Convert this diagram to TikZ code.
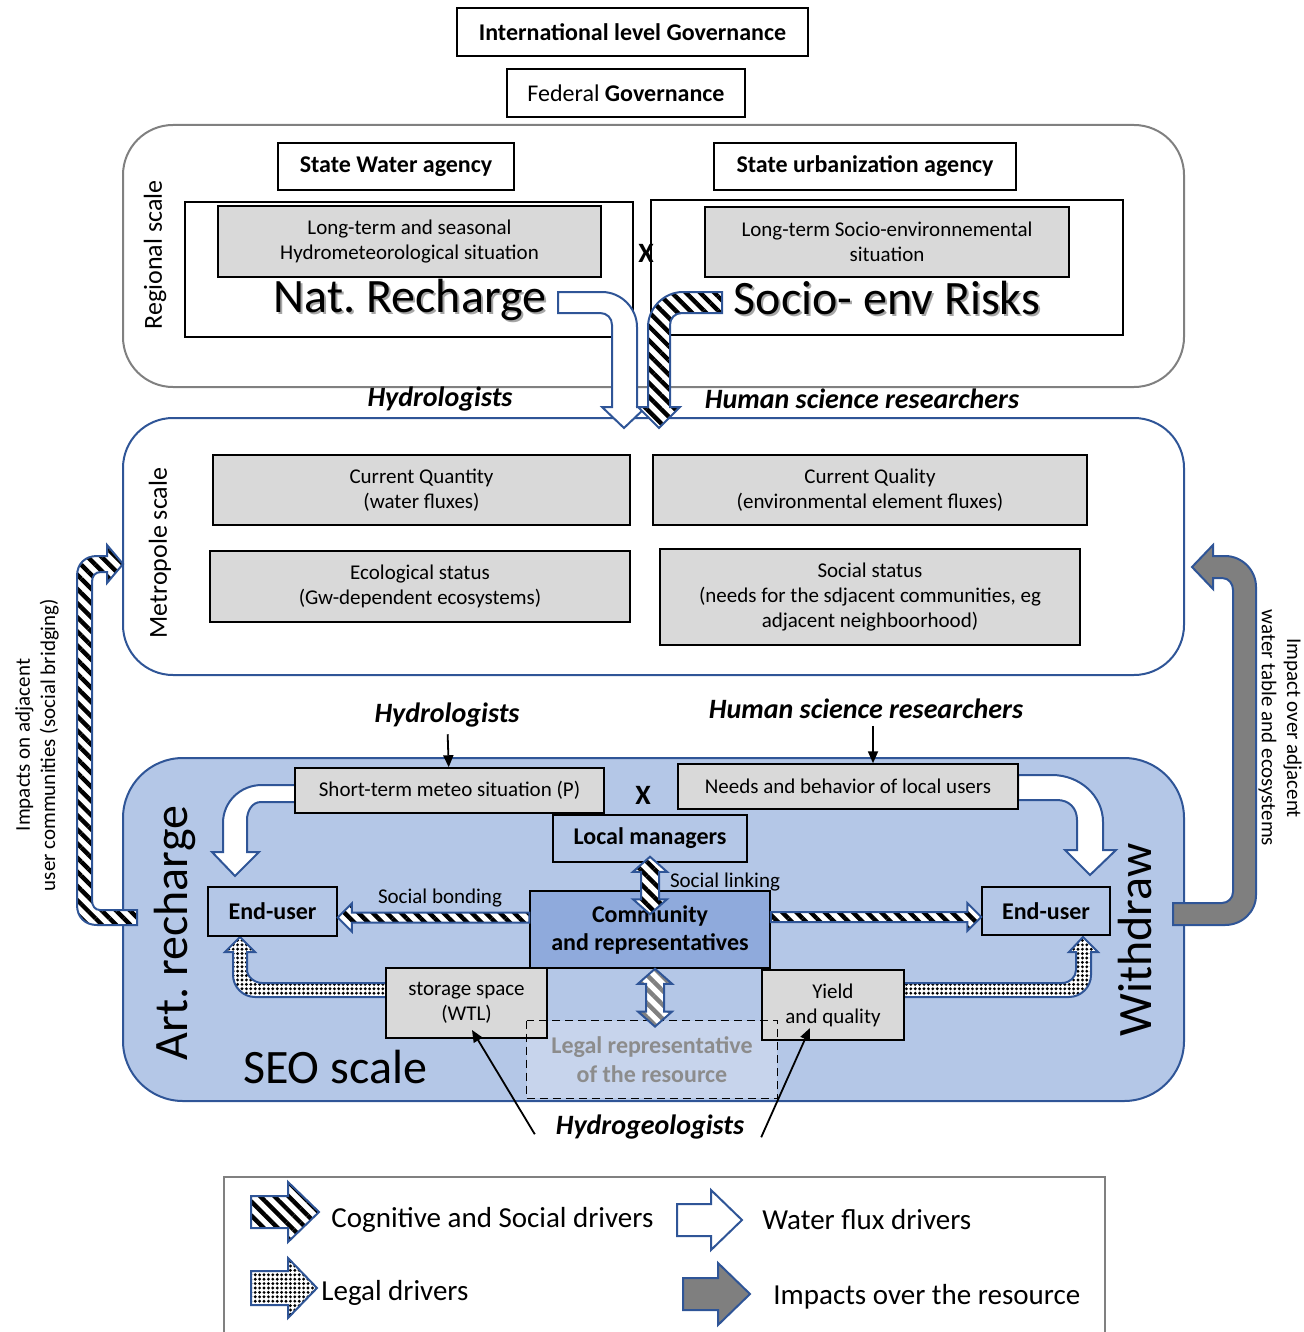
\documentclass[tikz,border=0pt]{standalone}
\usepackage{fontspec}
\setmainfont{Carlito}
\usepackage{xcolor}
\usetikzlibrary{calc,arrows.meta,patterns.meta}
\frenchspacing
\definecolor{seoblue}{HTML}{B4C7E7}
\definecolor{commblue}{HTML}{8FAADC}
\definecolor{edgeblue}{HTML}{2F5597}
\definecolor{cellgray}{HTML}{D9D9D9}
\definecolor{framegray}{HTML}{808080}
\definecolor{impactgray}{HTML}{7F7F7F}
\definecolor{legalfill}{HTML}{C7D4EC}
\definecolor{legaltext}{HTML}{8C8C8C}
\tikzset{
  span/.style n args={4}{at={({(#1+#3)/2},{(#2+#4)/2})},
    minimum width={(#3-#1)*0.5pt}, minimum height={(#4-#2)*0.5pt}},
  govbox/.style={draw, line width=0.75pt, fill=white, inner sep=0pt, font=\fontsize{12}{14}\selectfont\bfseries},
  cell/.style={draw, line width=0.75pt, fill=cellgray, inner sep=0pt, align=center, font=\fontsize{10.5}{12.6}\selectfont},
  panel/.style={draw, line width=0.6pt, inner sep=0pt},
  actor/.style={draw, line width=0.75pt, fill=seoblue, inner sep=0pt, align=center, font=\fontsize{12}{14}\selectfont\bfseries},
  role/.style={font=\fontsize{14}{16}\selectfont\bfseries\itshape},
  bigtxt/.style={font=\fontsize{24}{28}\selectfont},
  scalelab/.style={font=\fontsize{13}{15}\selectfont},
  note/.style={font=\fontsize{10.5}{12.6}\selectfont, align=center},
  legtxt/.style={font=\fontsize{14.5}{17}\selectfont, anchor=west, inner sep=0pt},
  waterdrv/.style={draw=edgeblue, line width=1pt, fill=white},
  socialdrv/.style={draw=edgeblue, line width=1pt, preaction={fill=white},
    pattern={Lines[angle=-45,distance=5pt,line width=2.2pt]}, pattern color=black},
  legaldrv/.style={draw=edgeblue, line width=1pt, preaction={fill=white},
    pattern={Dots[distance=2.2pt,radius=0.8pt]}, pattern color=black},
  legallink/.style={socialdrv, pattern color=gray},
  impactdrv/.style={draw=edgeblue, line width=1pt, fill=impactgray},
  pointer/.style={-{Triangle[length=6pt,width=5pt]}, line width=0.9pt},
}
% block arrow between two points on one line: style, tail, tip, head length
\newcommand{\hblock}[4]{%
  \draw[#1] ($(#2)+(0,-5)$) -- ($(#3)+(#4,-5)$) -- ($(#3)+(#4,-14)$) -- (#3)
    -- ($(#3)+(#4,14)$) -- ($(#3)+(#4,5)$) -- ($(#2)+(0,5)$) -- cycle;}
% vertical double arrow: style, upper tip, lower tip
\newcommand{\vdouble}[3]{%
  \draw[#1] (#2) -- ($(#2)+(17,15)$) -- ($(#2)+(9,15)$) -- ($(#3)+(9,-15)$)
    -- ($(#3)+(17,-15)$) -- (#3) -- ($(#3)+(-17,-15)$) -- ($(#3)+(-9,-15)$)
    -- ($(#2)+(-9,15)$) -- ($(#2)+(-17,15)$) -- cycle;}
% legend arrow: style, tail x, head x, tip x, y, half shaft, half head
\newcommand{\legarrow}[7]{%
  \draw[#1] (#2,#5-#6) -- (#3,#5-#6) -- (#3,#5-#7) -- (#4,#5) -- (#3,#5+#7)
    -- (#3,#5+#6) -- (#2,#5+#6) -- cycle;}

\begin{document}
\begin{tikzpicture}[x=0.5pt,y=-0.5pt]
\useasboundingbox (0,0) rectangle (1304,1332);

% governance levels
\node[govbox, span={457}{8}{808}{56}] (intl) {International level Governance};
\node[govbox, span={507}{69}{745}{117}, font=\fontsize{12}{14}\selectfont] (fed) {Federal \textbf{Governance}};

% regional scale
\node[draw=framegray, line width=1pt, rounded corners=25pt, inner sep=0pt, span={123}{125}{1184}{387}] (regional) {};
\node[scalelab, rotate=90] (reglab) at (155,255) {Regional scale};
\node[govbox, span={278}{143}{514}{190}] (waterag) {State Water agency};
\node[govbox, span={714}{143}{1016}{190}] (urbag) {State urbanization agency};
\node[panel, span={185}{202}{633}{337}] (natpanel) {};
\node[panel, span={651}{200}{1123}{335}] (riskpanel) {};
\node[cell, span={218}{206}{601}{277}] (hydrosit) {Long-term and seasonal\\Hydrometeorological situation};
\node[cell, span={705}{207}{1069}{277}] (sociosit) {Long-term Socio-environnemental\\situation};
\node[font=\fontsize{14}{16}\selectfont\bfseries] (cross1) at (646,253) {X};
\node[bigtxt, text=black!35] (natshadow) at (412,302) {Nat. Recharge};
\node[bigtxt] (nat) at (410,300) {Nat. Recharge};
\node[bigtxt, text=black!35] (riskshadow) at (889,300) {Socio- env Risks};
\node[bigtxt] (risk) at (887,298) {Socio- env Risks};
\node[role] (hydro1) at (440,399) {Hydrologists};
\node[role] (human1) at (862,399) {Human science researchers};

% metropole scale
\node[draw=edgeblue, line width=1pt, rounded corners=25pt, inner sep=0pt, fill=white, span={123}{418}{1184}{675}] (metro) {};
\node[scalelab, rotate=90] (metlab) at (160,553) {Metropole scale};
\node[cell, span={213}{455}{630}{525}] (quant) {Current Quantity\\(water fluxes)};
\node[cell, span={653}{455}{1087}{525}] (qual) {Current Quality\\(environmental element fluxes)};
\node[cell, span={210}{551}{630}{622}] (eco) {Ecological status\\(Gw-dependent ecosystems)};
\node[cell, span={660}{549}{1080}{645}] (social) {Social status\\(needs for the sdjacent communities, eg\\adjacent neighboorhood)};

% regional drivers down to the metropole
\draw[waterdrv] (558,292) -- (602,292) .. controls (621,292) and (637,308) .. (637,327)
  -- (637,407) -- (646,407) -- (624,428) -- (602,407) -- (612,407) -- (612,325)
  .. controls (612,318) and (607,313) .. (600,313) -- (558,313) -- cycle;
\draw[socialdrv] (722,292) -- (683,292) .. controls (664,292) and (648,308) .. (648,327)
  -- (648,407) -- (638,407) -- (659,428) -- (680,407) -- (670,407) -- (670,325)
  .. controls (670,318) and (675,313) .. (682,313) -- (722,313) -- cycle;

\node[role] (hydro2) at (447,715) {Hydrologists};
\node[role] (human2) at (866,709) {Human science researchers};

% SEO scale
\node[draw=edgeblue, line width=1pt, rounded corners=30pt, inner sep=0pt, fill=seoblue, span={123}{758}{1184}{1101}] (seo) {};

% side loops
\draw[socialdrv] (137,910) -- (100,910) .. controls (95,910) and (92,906) .. (92,900)
  -- (92,582) .. controls (92,576) and (95,572) .. (101,572) -- (107,572) -- (107,583)
  -- (123,564) -- (107,545) -- (107,556) -- (97,556) .. controls (85,556) and (77,564) .. (77,576)
  -- (77,905) .. controls (77,917) and (85,925) .. (97,925) -- (137,925) -- cycle;
\draw[impactdrv] (1173,903) -- (1222,903) .. controls (1228,903) and (1233,898) .. (1233,892)
  -- (1233,590) .. controls (1233,584) and (1229,578) .. (1222,578) -- (1213,578) -- (1213,589)
  -- (1192,567) -- (1213,545) -- (1213,556) -- (1225,556) .. controls (1242,556) and (1256,570) .. (1256,587)
  -- (1256,895) .. controls (1256,912) and (1242,925) .. (1225,925) -- (1173,925) -- cycle;
\node[note, rotate=90] (bridgelab) at (37,745) {Impacts on adjacent\\user communities (social bridging)};
\node[note, rotate=-90] (tablelab) at (1280,728) {Impact over adjacent\\water table and ecosystems};

% water flux to the end-users
\draw[waterdrv] (295,785) -- (262,785) .. controls (240,785) and (223,802) .. (223,823)
  -- (223,852) -- (212,852) -- (235,876) -- (259,852) -- (247,852) -- (247,820)
  .. controls (247,811) and (252,802) .. (261,802) -- (295,802) -- cycle;
\draw[waterdrv] (1018,775) -- (1052,775) .. controls (1080,775) and (1103,796) .. (1103,822)
  -- (1103,850) -- (1116,850) -- (1090,875) -- (1065,850) -- (1077,850) -- (1077,820)
  .. controls (1077,808) and (1069,800) .. (1057,800) -- (1018,800) -- cycle;

% legal drivers
\draw[legaldrv] (386,983) -- (262,983) .. controls (255,983) and (247,977) .. (247,970)
  -- (247,952) -- (255,952) -- (240,937) -- (225,952) -- (233,952) -- (233,975)
  .. controls (233,987) and (243,997) .. (255,997) -- (386,997) -- cycle;
\draw[legaldrv] (904,983) -- (1062,983) .. controls (1070,983) and (1076,977) .. (1076,970)
  -- (1076,952) -- (1069,952) -- (1083,937) -- (1098,952) -- (1091,952) -- (1091,975)
  .. controls (1091,987) and (1081,997) .. (1069,997) -- (904,997) -- cycle;

\node[fill=legalfill, inner sep=0pt, span={527}{1021}{777}{1098}, align=center,
  font=\fontsize{12}{14.5}\selectfont\bfseries, text=legaltext] (legal) {Legal representative\\of the resource};
\node[cell, span={386}{968}{547}{1038}] (storage) {storage space\\(WTL)};
\node[cell, span={762}{970}{904}{1040}] (yield) {Yield\\and quality};
\draw[dashed, dash pattern=on 4pt off 2.5pt, line width=0.8pt] (legal.north west) rectangle (legal.south east);

\node[cell, span={295}{768}{604}{813}] (short) {Short-term meteo situation (P)};
\node[font=\fontsize{14}{16}\selectfont\bfseries] (cross2) at (643,795) {X};
\node[cell, span={678}{764}{1018}{809}] (needs) {Needs and behavior of local users};
\node[actor, span={553}{815}{747}{862}] (lm) {Local managers};
\node[actor, span={530}{891}{770}{968}, fill=commblue] (comm) {Community\\and representatives};
\node[actor, span={208}{887}{337}{936}] (endl) {End-user};
\node[actor, span={982}{887}{1110}{935}] (endr) {End-user};

% social bonding and linking
\coordinate (bondLtip) at ([yshift=-3pt]endl.east);
\coordinate (bondLtail) at (bondLtip -| comm.west);
\hblock{socialdrv}{bondLtail}{bondLtip}{14}
\coordinate (bondRtip) at ([yshift=-3pt]endr.west);
\coordinate (bondRtail) at (bondRtip -| comm.east);
\hblock{socialdrv}{bondRtail}{bondRtip}{-14}
\coordinate (linkT) at ([yshift=3pt]lm.south);
\coordinate (linkB) at ([yshift=-12pt]comm.north);
\vdouble{socialdrv}{linkT}{linkB}
\coordinate (legT) at ([xshift=2.5pt]comm.south);
\coordinate (legB) at ($(legT |- legal.north)+(0,6)$);
\vdouble{legallink}{legT}{legB}
\node[note] (bondlab) at (440,898) {Social bonding};
\node[note] (linklab) at (725,882) {Social linking};

\node[bigtxt] (seolab) at (335,1067) {SEO scale};
\node[bigtxt, rotate=90] (artlab) at (175,933) {Art. recharge};
\node[bigtxt, rotate=90] (withlab) at (1135,940) {Withdraw};

% experts
\draw[pointer] (hydro2) -- (short);
\coordinate (humanfoot) at ([xshift=3.5pt]human2.south);
\draw[pointer] (humanfoot) -- (humanfoot |- needs.north);
\node[role] (hgeo) at (650,1127) {Hydrogeologists};
\coordinate (wtltip) at (472,1030);
\coordinate (yieldtip) at (810,1028);
\draw[pointer] ($(hgeo.south west)+(-14,-12)$) -- (wtltip);
\draw[pointer] ($(hgeo.south east)+(10,-9)$) -- (yieldtip);

% legend
\draw[framegray, line width=1pt] (224,1340) -- (224,1177) -- (1105,1177) -- (1105,1340);
\legarrow{socialdrv}{251}{288}{319}{1212}{16}{30}
\legarrow{waterdrv}{677}{711}{742}{1220}{16}{30}
\legarrow{legaldrv}{251}{288}{317}{1288}{17}{30}
\legarrow{impactdrv}{683}{718}{750}{1294}{16}{31}
\node[legtxt] (legsocial) at (331,1220) {Cognitive and Social drivers};
\node[legtxt] (legwater) at (762,1220) {Water flux drivers};
\node[legtxt] (leglegal) at (321,1293) {Legal drivers};
\node[legtxt] (legimpact) at (773,1297) {Impacts over the resource};
\end{tikzpicture}
\end{document}
